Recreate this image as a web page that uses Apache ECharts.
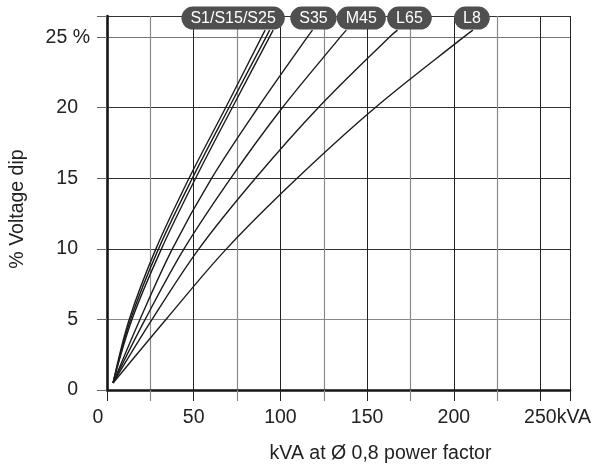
<!DOCTYPE html>
<html>
<head>
<meta charset="utf-8">
<script src="https://cdn.jsdelivr.net/npm/echarts@6/dist/echarts.min.js"></script>
<style>
html,body{margin:0;padding:0;background:#fff;}
#chart{width:604px;height:469px;}
</style>
</head>
<body>
<div id="chart"></div>
<script>
// Voltage dip (%) levels at which kVA was read for every curve
const dipLevels = [0.5, 5, 10, 15, 20, 25, 25.5];
// kVA at each dip level
const kvaS1  = [3.5, 12.8, 28.2, 47.3, 68.4, 89.1, 91.2];
const kvaS15 = [3.5, 13.6, 29.7, 49.2, 70.3, 91.7, 93.8];
const kvaS25 = [3.5, 14.4, 31.4, 51.1, 72.2, 93.7, 95.8];
const kvaS35 = [3.5, 19.0, 37.7, 60.3, 87.0, 115.5, 118.5];
const kvaM45 = [3.5, 22.0, 44.4, 71.3, 101.1, 134.5, 138.0];
const kvaL65 = [3.5, 26.0, 53.0, 85.6, 121.8, 162.8, 167.5];
const kvaL8  = [3.5, 34.0, 68.9, 109.6, 154.6, 205.6, 211.0];
// curve labels
const curveLabels = ['S1/S15/S25', 'S35', 'M45', 'L65', 'L8'];
// tick labels
const xTickLabels = {0: '0', 50: '50', 100: '100', 150: '150', 200: '200', 250: '250kVA'};
const yTickLabels = {0: '0', 5: '5', 10: '10', 15: '15', 20: '20', 25: '25 %'};
const xTitle = 'kVA at Ø 0,8 power factor';
const yTitle = '% Voltage dip';

const FONT = '"Liberation Sans", Arial, Helvetica, sans-serif';

function mkSeries(name, kva, label, offX) {
  const data = kva.map((x, i) => [x, dipLevels[i]]);
  const s = {
    type: 'line', name: name, data: data,
    smooth: 0.35, showSymbol: false, symbol: 'none',
    lineStyle: {color: '#1c1c1c', width: 1.4},
    silent: true, animation: false, z: 3
  };
  if (label) {
    s.markPoint = {
      symbol: 'circle', symbolSize: 1, animation: false, silent: true,
      itemStyle: {color: 'rgba(0,0,0,0)'},
      data: [{
        coord: data[data.length - 1],
        label: {
          show: true, position: 'inside', formatter: label,
          offset: [offX, -12],
          backgroundColor: '#4f4f4f', color: '#ffffff',
          borderRadius: 12, padding: [4, 9, 3, 9],
          fontSize: 16, lineHeight: 16, fontFamily: FONT
        }
      }]
    };
  }
  return s;
}

const chart = echarts.init(document.getElementById('chart'), null, {renderer: 'canvas'});
chart.setOption({
  animation: false,
  backgroundColor: '#ffffff',
  grid: {left: 106, right: 34, top: 16, bottom: 78},
  xAxis: {
    type: 'value', min: 0, max: 267, interval: 50,
    name: xTitle, nameLocation: 'middle', nameGap: 54,
    nameTextStyle: {fontSize: 19.5, color: '#222', fontFamily: FONT, padding: [0, 0, 0, 84]},
    axisLine: {show: true, onZero: false, lineStyle: {color: '#151515', width: 2.6}},
    axisTick: {show: true, length: 11, lineStyle: {color: '#222', width: 1}},
    minorTick: {show: true, splitNumber: 2, length: 11, lineStyle: {color: '#8a8a8a', width: 1.2}},
    splitLine: {show: true, lineStyle: {color: '#222', width: 1}},
    minorSplitLine: {show: true, lineStyle: {color: '#8a8a8a', width: 1.2}},
    axisLabel: {
      fontSize: 19.5, color: '#222', fontFamily: FONT, margin: 18,
      formatter: function (v) {
        const t = xTickLabels[v];
        if (t === undefined) return '';
        if (v === 0) return '{z|' + t + '}';
        if (v === 250) return '{e|' + t + '}';
        return t;
      },
      rich: {
        z: {fontSize: 19.5, color: '#222', fontFamily: FONT, padding: [0, 18, 0, 0]},
        e: {fontSize: 19.5, color: '#222', fontFamily: FONT, padding: [0, 0, 0, 34]}
      }
    }
  },
  yAxis: {
    type: 'value', min: 0, max: 26.5, interval: 5,
    name: yTitle, nameLocation: 'middle', nameGap: 79,
    nameTextStyle: {fontSize: 19.5, color: '#222', fontFamily: FONT, padding: [0, 12, 0, 0]},
    axisLine: {show: true, onZero: false, lineStyle: {color: '#151515', width: 2.6}},
    axisTick: {show: true, length: 10, lineStyle: {color: '#666', width: 1}},
    splitLine: {show: true, lineStyle: {color: ['#333', '#888', '#333', '#333', '#333', '#777'], width: 1.1}},
    axisLabel: {
      fontSize: 19.5, color: '#222', fontFamily: FONT, margin: 17,
      formatter: function (v) {
        const t = yTickLabels[v];
        if (t === undefined) return '';
        return v === 25 ? t : '{n|' + t + '}';
      },
      rich: {
        n: {fontSize: 19.5, color: '#222', fontFamily: FONT, padding: [0, 12, 0, 0]}
      }
    }
  },
  series: [
    mkSeries('S1', kvaS1, null, 0),
    mkSeries('S15', kvaS15, null, 0),
    mkSeries('S25', kvaS25, curveLabels[0], -40),
    mkSeries('S35', kvaS35, curveLabels[1], 1),
    mkSeries('M45', kvaM45, curveLabels[2], 15),
    mkSeries('L65', kvaL65, curveLabels[3], 12),
    mkSeries('L8', kvaL8, curveLabels[4], -1)
  ]
});
</script>
</body>
</html>
